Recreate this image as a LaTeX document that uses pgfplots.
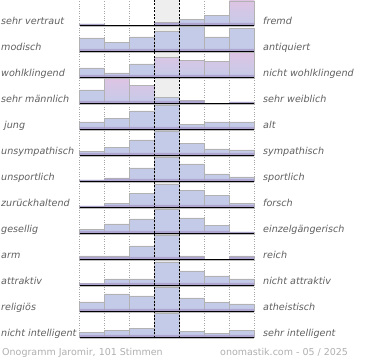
\documentclass[border=0pt]{standalone}
\usepackage{pgfplots}
\pgfplotsset{compat=1.18}
\usepackage{fontspec}
\setmainfont{DejaVu Sans}
\definecolor{barblue}{RGB}{196,203,232}
\definecolor{barpink}{RGB}{222,196,228}
\definecolor{barpurple}{RGB}{170,156,204}
\definecolor{colgray}{RGB}{238,238,238}
\definecolor{labgray}{RGB}{95,95,95}
\definecolor{footgray}{RGB}{175,175,175}
\pgfplotsset{
  rowax/.style={anchor=origin, scale only axis, width=175bp, height=26bp,
    xmin=0, xmax=7, ymin=0, ymax=26, hide axis, clip=false,
    ybar, bar width=1, bar shift=0pt},
  bb/.style={fill=barblue, draw=gray!60, line width=0.5bp},
  bp/.style={top color=barpink, bottom color=barblue, draw=gray!60, line width=0.5bp},
  bs/.style={fill=barpurple, draw=none, fill opacity=0.8},
}
\tikzset{lab/.style={font=\fontsize{9.6bp}{11bp}\selectfont\itshape, text=labgray, anchor=base west, inner sep=0pt}}
\newcommand{\RowAxis}[4]{%
  \begin{axis}[rowax, at={(79.5bp,#1bp)}]
  #4
  \draw[gray!50, line width=1bp] (axis cs:0,-0.9) -- (axis cs:7,-0.9);
  \draw[black, line width=1.3bp] (axis cs:0,0) -- (axis cs:7,0);
  \end{axis}
  \node[lab] at (1bp,{(#1+1.2)*1bp}) {#2};
  \node[lab] at (263bp,{(#1+1.2)*1bp}) {#3};
}
\begin{document}
\begin{tikzpicture}
\path[use as bounding box] (0,0) rectangle (370bp,360bp);
\fill[colgray] (154.5bp,22bp) rectangle (179.5bp,360bp);
\foreach \xx in {79.5,104.5,129.5,204.5,229.5,254.5}{
  \draw[gray!70, line width=0.6bp, dash pattern=on 0.8bp off 1.6bp] (\xx bp,22bp) -- (\xx bp,360bp);
}
% row 1
\RowAxis{334.7}{sehr vertraut}{fremd}{%
  \addplot[bb] coordinates {(0.5,1.3) (3.5,2.7) (4.5,5.7) (5.5,10)};
  \addplot[bp] coordinates {(6.5,24.3)};
  \addplot[bs] coordinates {(0.5,1.3) (3.5,2.5) (4.5,2.5) (5.5,2.5) (6.5,2.5)};}
% row 2
\RowAxis{308.7}{modisch}{antiquiert}{%
  \addplot[bb] coordinates {(0.5,13.3) (1.5,8.7) (2.5,14.3) (3.5,19.7) (4.5,25.3) (5.5,14.3) (6.5,23.3)};
  \addplot[bs] coordinates {(0.5,2.5) (1.5,2.5) (2.5,2.5) (3.5,2.5) (4.5,2.5) (5.5,2.5) (6.5,2.5)};}
% row 3
\RowAxis{282.7}{wohlklingend}{nicht wohlklingend}{%
  \addplot[bb] coordinates {(0.5,9.3) (1.5,4.3) (2.5,13.3)};
  \addplot[bp] coordinates {(3.5,19.7) (4.5,16.7) (5.5,15.7) (6.5,25)};
  \addplot[bs] coordinates {(0.5,2.5) (1.5,2.5) (2.5,2.5) (3.5,2.5) (4.5,2.5) (5.5,2.5) (6.5,2.5)};}
% row 4
\RowAxis{256.7}{sehr männlich}{sehr weiblich}{%
  \addplot[bb] coordinates {(0.5,13.3) (3.5,6) (4.5,2.7) (6.5,1.3)};
  \addplot[bp] coordinates {(1.5,24.7) (2.5,18)};
  \addplot[bs] coordinates {(0.5,2.5) (1.5,2.5) (2.5,2.5) (3.5,2.5) (4.5,2.5) (6.5,1.3)};}
% row 5
\RowAxis{230.7}{\hspace{3bp}jung}{alt}{%
  \addplot[bb] coordinates {(0.5,7.3) (1.5,11) (2.5,18.3) (3.5,24.3) (4.5,5) (5.5,7.3) (6.5,7.3)};
  \addplot[bs] coordinates {(0.5,2.5) (1.5,2.5) (2.5,2.5) (3.5,2.5) (4.5,2.5) (5.5,2.5) (6.5,2.5)};}
% row 6
\RowAxis{204.7}{unsympathisch}{sympathisch}{%
  \addplot[bb] coordinates {(0.5,3.7) (1.5,7.7) (2.5,15.3) (3.5,24.3) (4.5,12) (5.5,6.3) (6.5,5.3)};
  \addplot[bs] coordinates {(0.5,2.5) (1.5,2.5) (2.5,2.5) (3.5,2.5) (4.5,2.5) (5.5,2.5) (6.5,2.5)};}
% row 7
\RowAxis{178.7}{unsportlich}{sportlich}{%
  \addplot[bb] coordinates {(0.5,1.3) (1.5,3.3) (2.5,13.3) (3.5,24) (4.5,17.3) (5.5,7.3) (6.5,4.3)};
  \addplot[bs] coordinates {(0.5,1.3) (1.5,2.5) (2.5,2.5) (3.5,2.5) (4.5,2.5) (5.5,2.5) (6.5,2.5)};}
% row 8
\RowAxis{152.7}{zurückhaltend}{forsch}{%
  \addplot[bb] coordinates {(0.5,1.3) (1.5,4) (2.5,14) (3.5,23) (4.5,17) (5.5,11.7) (6.5,4)};
  \addplot[bs] coordinates {(0.5,1.3) (1.5,2.5) (2.5,2.5) (3.5,2.5) (4.5,2.5) (5.5,2.5) (6.5,2.5)};}
% row 9
\RowAxis{126.7}{gesellig}{einzelgängerisch}{%
  \addplot[bb] coordinates {(0.5,3.7) (1.5,9.3) (2.5,14.3) (3.5,23.7) (4.5,15.3) (5.5,7.7) (6.5,1.3)};
  \addplot[bs] coordinates {(0.5,2.5) (1.5,2.5) (2.5,2.5) (3.5,2.5) (4.5,2.5) (5.5,2.5) (6.5,1.3)};}
% row 10
\RowAxis{100.7}{arm}{reich}{%
  \addplot[bb] coordinates {(0.5,3.3) (1.5,3.3) (2.5,13.3) (3.5,24) (4.5,3.3) (6.5,3.3)};
  \addplot[bs] coordinates {(0.5,2.5) (1.5,2.5) (2.5,2.5) (3.5,2.5) (4.5,2.5) (6.5,2.5)};}
% row 11
\RowAxis{74.7}{attraktiv}{nicht attraktiv}{%
  \addplot[bb] coordinates {(0.5,2) (1.5,6.3) (2.5,6.3) (3.5,23.3) (4.5,14.3) (5.5,9.3) (6.5,6.3)};
  \addplot[bs] coordinates {(0.5,2) (1.5,2.5) (2.5,2.5) (3.5,2.5) (4.5,2.5) (5.5,2.5) (6.5,2.5)};}
% row 12
\RowAxis{48.7}{religiös}{atheistisch}{%
  \addplot[bb] coordinates {(0.5,9.3) (1.5,17.3) (2.5,15.3) (3.5,23.7) (4.5,13.3) (5.5,9) (6.5,7.3)};
  \addplot[bs] coordinates {(0.5,2.5) (1.5,2.5) (2.5,2.5) (3.5,2.5) (4.5,2.5) (5.5,2.5) (6.5,2.5)};}
% row 13
\RowAxis{22.7}{nicht intelligent}{sehr intelligent}{%
  \addplot[bb] coordinates {(0.5,4.7) (1.5,7.3) (2.5,9.3) (3.5,24.3) (4.5,5.7) (5.5,4) (6.5,7)};
  \addplot[bs] coordinates {(0.5,2.5) (1.5,2.5) (2.5,2.5) (3.5,2.5) (4.5,2.5) (5.5,2.5) (6.5,2.5)};}
\foreach \xx in {154.5,179.5}{
  \draw[black, line width=0.9bp, dash pattern=on 2bp off 1.5bp] (\xx bp,22bp) -- (\xx bp,360bp);
}
\node[font=\fontsize{9.5bp}{11bp}\selectfont, text=footgray, anchor=base west, inner sep=0pt] at (2bp,4.5bp) {Onogramm Jaromir, 101 Stimmen};
\node[font=\fontsize{9.5bp}{11bp}\selectfont, text=footgray, anchor=base west, inner sep=0pt] at (220bp,4.5bp) {onomastik.com - 05 / 2025};
\end{tikzpicture}
\end{document}
